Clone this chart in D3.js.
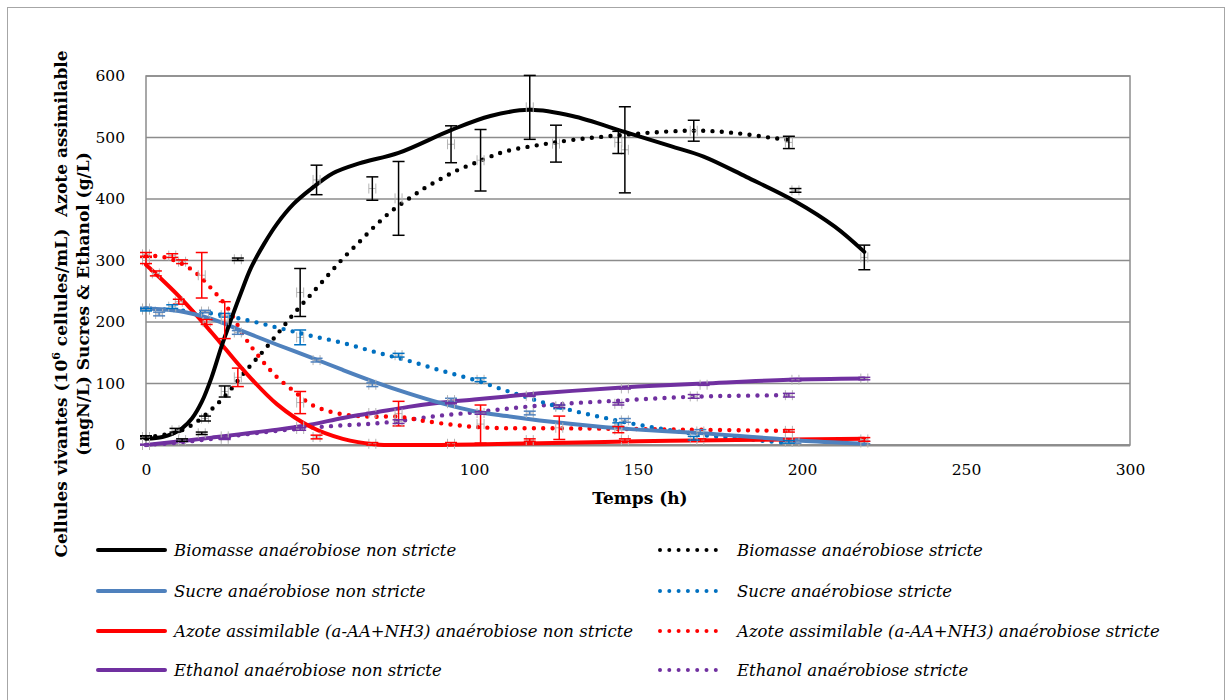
<!DOCTYPE html>
<html>
<head>
<meta charset="utf-8">
<script src="https://cdn.jsdelivr.net/npm/d3@7"></script>
<style>
  html, body { margin: 0; padding: 0; background: #fff; }
  svg { display: block; }
  text { font-family: "DejaVu Serif", "Liberation Serif", serif; fill: #000; }
</style>
</head>
<body>
<svg id="chart" width="1232" height="700"></svg>
<script>
// ---- axis ticks ----
const xTicks = [0, 50, 100, 150, 200, 250, 300];
const yTicks = [0, 100, 200, 300, 400, 500, 600];

// ---- fitted curves: [time (h), value] ----
const biomasseNonStricte = [[0,10],[5,13],[8,18],[11,27],[14,43],[17,70],[20,110],[23,160],[26,205],[29,248],[32,288],[36,327],[40,360],[45,392],[50,415],[57,442],[65,458],[77,475],[93,512],[105,535],[117,545],[130,535],[146,509],[160,486],[170,469],[183,436],[198,396],[210,355],[219,314]];
const biomasseStricte = [[0,13],[5,16],[10,22],[15,36],[20,58],[25,85],[30,118],[35,148],[40,180],[45,213],[50,243],[55,273],[60,303],[65,330],[70,357],[75,381],[80,400],[85,418],[90,433],[95,447],[100,458],[105,469],[110,478],[120,488],[130,496],[145,504],[160,510],[170,511],[180,507],[190,500],[196,496]];
const sucreNonStricte = [[0,222],[10,218],[20,205],[30,184],[40,163],[50,143],[60,122],[70,102],[80,84],[90,68],[100,55],[110,47],[120,40],[130,34],[140,29],[150,25],[160,22],[170,19],[180,15],[190,11],[200,7],[219,2]];
const sucreStricte = [[0,222],[10,219],[20,214],[30,204],[40,191],[50,178],[60,166],[70,151],[80,137],[90,121],[100,106],[110,88],[120,71],[130,56],[140,44],[150,33],[160,24],[170,16],[180,11],[190,6],[196,3]];
const azoteNonStricte = [[0,293],[10,242],[20,183],[30,120],[40,66],[50,30],[60,10],[70,1],[80,0],[90,0],[100,1],[120,3],[150,6],[180,8],[219,10]];
const azoteStricte = [[0,308],[5,306],[10,297],[15,281],[20,254],[25,222],[30,176],[35,140],[40,110],[45,88],[50,67],[55,56],[60,50],[65,47],[70,46],[77,46],[85,39],[95,32],[105,28],[130,27],[165,25],[196,23]];
const ethanolNonStricte = [[0,0],[20,12],[40,25],[50,33],[60,44],[70,53],[80,62],[90,69],[100,74],[110,79],[120,84],[130,88],[150,95],[170,100],[196,106],[219,108]];
const ethanolStricte = [[0,0],[10,4],[20,10],[30,17],[40,23],[50,28],[60,32],[70,35],[80,41],[90,48],[100,53],[110,59],[120,64],[130,68],[140,71],[150,74],[160,77],[170,79],[180,80],[196,81]];

// ---- measurements: [time (h), mean, standard deviation] ----
const biomasseNonStricteMes = [[0,12,2],[11,8,2],[17,19,2],[28,302,2],[52,431,24],[69,417,19],[93,489,30],[117,549,52],[146,480,70],[198,414,3],[219,305,20]];
const biomasseStricteMes = [[0,13,2],[9,24,3],[18,43,4],[24,87,9],[47,248,39],[77,401,60],[102,463,50],[125,490,30],[144,492,18],[167,511,17],[196,492,10]];
const sucreNonStricteMes = [[0,222,2],[4,213,3],[18,217,2],[28,183,3],[52,138,3],[69,98,3],[93,73,3],[117,52,3],[146,40,3],[169,22,3],[198,5,2],[219,4,2]];
const sucreStricteMes = [[0,220,2],[8,225,3],[24,211,3],[47,175,12],[77,146,3],[102,106,3],[126,62,3],[144,33,3],[167,11,3],[196,5,2]];
const azoteNonStricteMes = [[0,300,5],[3,279,4],[10,233,4],[18.5,200,4],[28,110,15],[52,13,3],[69,2,2],[93,2,2],[117,8,2],[146,8,2],[169,8,2],[196,8,2],[219,9,3]];
const azoteStricteMes = [[0,310,3],[8,308,3],[11,298,3],[17,276,37],[24,203,30],[47,69,18],[77,51,20],[102,34,31],[126,28,19],[144,25,5],[196,23,2]];
const ethanolNonStricteMes = [[0,0,1],[24,14,1],[47,30,1],[69,52,1],[93,68,1],[117,80,1],[146,92,1],[170,98,1],[198,106,2],[219,108,2]];
const ethanolStricteMes = [[0,0,1],[24,10,1],[47,26,2],[77,38,3],[102,52,2],[126,63,2],[144,67,2],[167,79,3],[196,81,3]];

// ---- series descriptions ----
const series = [
  { name: "Biomasse anaérobiose non stricte", curve: biomasseNonStricte, mes: biomasseNonStricteMes, color: "#000000", dotted: false },
  { name: "Sucre anaérobiose non stricte", curve: sucreNonStricte, mes: sucreNonStricteMes, color: "#4F81BD", dotted: false },
  { name: "Azote assimilable (a-AA+NH3) anaérobiose non stricte", curve: azoteNonStricte, mes: azoteNonStricteMes, color: "#FF0000", dotted: false },
  { name: "Ethanol anaérobiose non stricte", curve: ethanolNonStricte, mes: ethanolNonStricteMes, color: "#7030A0", dotted: false },
  { name: "Biomasse anaérobiose stricte", curve: biomasseStricte, mes: biomasseStricteMes, color: "#000000", dotted: true },
  { name: "Sucre anaérobiose stricte", curve: sucreStricte, mes: sucreStricteMes, color: "#0070C0", dotted: true },
  { name: "Azote assimilable (a-AA+NH3) anaérobiose stricte", curve: azoteStricte, mes: azoteStricteMes, color: "#FF0000", dotted: true },
  { name: "Ethanol anaérobiose stricte", curve: ethanolStricte, mes: ethanolStricteMes, color: "#7030A0", dotted: true }
];

const svg = d3.select("#chart");
const plot = { left: 146, right: 1130, top: 76, bottom: 445 };

const x = d3.scaleLinear().domain([0, 300]).range([plot.left, plot.right]);
const y = d3.scaleLinear().domain([0, 600]).range([plot.bottom, plot.top]);

// outer frame
svg.append("rect")
  .attr("x", 7.5).attr("y", 7.5).attr("width", 1217).attr("height", 700)
  .attr("fill", "none").attr("stroke", "#a6a6a6").attr("stroke-width", 1);

// horizontal gridlines
svg.append("g")
  .selectAll("line").data(yTicks).join("line")
  .attr("x1", plot.left).attr("x2", plot.right)
  .attr("y1", d => y(d)).attr("y2", d => y(d))
  .attr("stroke", "#8c8c8c").attr("stroke-width", 1.5);

// plot area border
svg.append("rect")
  .attr("x", plot.left).attr("y", plot.top)
  .attr("width", plot.right - plot.left).attr("height", plot.bottom - plot.top)
  .attr("fill", "none").attr("stroke", "#8c8c8c").attr("stroke-width", 1.5);
svg.append("line")
  .attr("x1", plot.left).attr("x2", plot.right)
  .attr("y1", plot.bottom + 0.5).attr("y2", plot.bottom + 0.5)
  .attr("stroke", "#8c8c8c").attr("stroke-width", 2);

// axes (labels only)
const xAxis = svg.append("g")
  .attr("transform", `translate(0,${plot.bottom + 16})`)
  .call(d3.axisBottom(x).tickValues(xTicks).tickSize(0).tickFormat(d3.format("d")));
xAxis.select(".domain").remove();
xAxis.selectAll("text").attr("font-size", 15.5).attr("font-family", "DejaVu Serif");

const yAxis = svg.append("g")
  .attr("transform", `translate(${plot.left - 18},0)`)
  .call(d3.axisLeft(y).tickValues(yTicks).tickSize(0).tickFormat(d3.format("d")));
yAxis.select(".domain").remove();
yAxis.selectAll("text").attr("font-size", 15.5).attr("font-family", "DejaVu Serif");

// axis titles
svg.append("text")
  .attr("x", (plot.left + plot.right) / 2 + 2).attr("y", 504)
  .attr("text-anchor", "middle").attr("font-weight", "bold").attr("font-size", 17)
  .text("Temps (h)");

const yTitle = svg.append("text")
  .attr("transform", "translate(67,304) rotate(-90)")
  .attr("text-anchor", "middle").attr("font-weight", "bold").attr("font-size", 17)
  .style("white-space", "pre");
yTitle.append("tspan").text("Cellules vivantes (10");
yTitle.append("tspan").attr("font-size", 11).attr("dy", -7).text("6");
yTitle.append("tspan").attr("dy", 7).text(" cellules/mL)  Azote assimilable");

svg.append("text")
  .attr("transform", "translate(89,304) rotate(-90)")
  .attr("text-anchor", "middle").attr("font-weight", "bold").attr("font-size", 17)
  .text("(mgN/L) Sucres & Ethanol (g/L)");

// curves
const line = d3.line()
  .x(d => x(d[0])).y(d => y(d[1]))
  .curve(d3.curveCatmullRom.alpha(0.5));

const drawOrder = [7, 6, 5, 4, 3, 2, 1, 0];
const curves = svg.append("g");
drawOrder.forEach(i => {
  const s = series[i];
  const p = curves.append("path")
    .attr("d", line(s.curve))
    .attr("fill", "none")
    .attr("stroke", s.color)
    .attr("stroke-linecap", "round")
    .attr("stroke-linejoin", "round");
  if (s.dotted) {
    p.attr("stroke-width", 4.4).attr("stroke-dasharray", "0 9.3");
  } else {
    p.attr("stroke-width", 4);
  }
});

// measurement error bars
const bars = svg.append("g");
series.forEach(s => {
  const g = bars.append("g");
  s.mes.forEach(m => {
    const cx = x(m[0]);
    const yTop = y(m[1] + m[2]);
    const yBot = y(Math.max(0, m[1] - m[2]));
    const cy = y(m[1]);
    // horizontal (time) bar in grey
    g.append("line").attr("x1", cx - 3.5).attr("x2", cx + 3.5).attr("y1", cy).attr("y2", cy)
      .attr("stroke", "#b3b3b3").attr("stroke-width", 1);
    g.append("line").attr("x1", cx - 3.5).attr("x2", cx - 3.5).attr("y1", cy - 5).attr("y2", cy + 5)
      .attr("stroke", "#b3b3b3").attr("stroke-width", 1);
    g.append("line").attr("x1", cx + 3.5).attr("x2", cx + 3.5).attr("y1", cy - 5).attr("y2", cy + 5)
      .attr("stroke", "#b3b3b3").attr("stroke-width", 1);
    // vertical (value) bar in the series colour
    g.append("line").attr("x1", cx).attr("x2", cx).attr("y1", yTop).attr("y2", yBot)
      .attr("stroke", s.color).attr("stroke-width", 1.5);
    [yTop, yBot].forEach(yy => {
      g.append("line").attr("x1", cx - 6).attr("x2", cx + 6).attr("y1", yy).attr("y2", yy)
        .attr("stroke", s.color).attr("stroke-width", 1.5);
    });
  });
});

// legend
const legend = svg.append("g");
const rowY = [550, 591, 631, 670];
series.forEach((s, i) => {
  const col = i < 4 ? 0 : 1;
  const row = i % 4;
  const x0 = col === 0 ? 98 : 660;
  const x1 = col === 0 ? 165 : 725;
  const tx = col === 0 ? 174 : 737;
  const ly = rowY[row];
  const l = legend.append("line")
    .attr("x1", x0).attr("x2", x1).attr("y1", ly).attr("y2", ly)
    .attr("stroke", s.color).attr("stroke-linecap", "round");
  if (s.dotted) l.attr("stroke-width", 4).attr("stroke-dasharray", "0 9.3");
  else l.attr("stroke-width", 4);
  legend.append("text")
    .attr("x", tx).attr("y", ly + 5.5)
    .attr("font-size", 16.5).attr("font-style", "italic")
    .text(s.name);
});
</script>
</body>
</html>
